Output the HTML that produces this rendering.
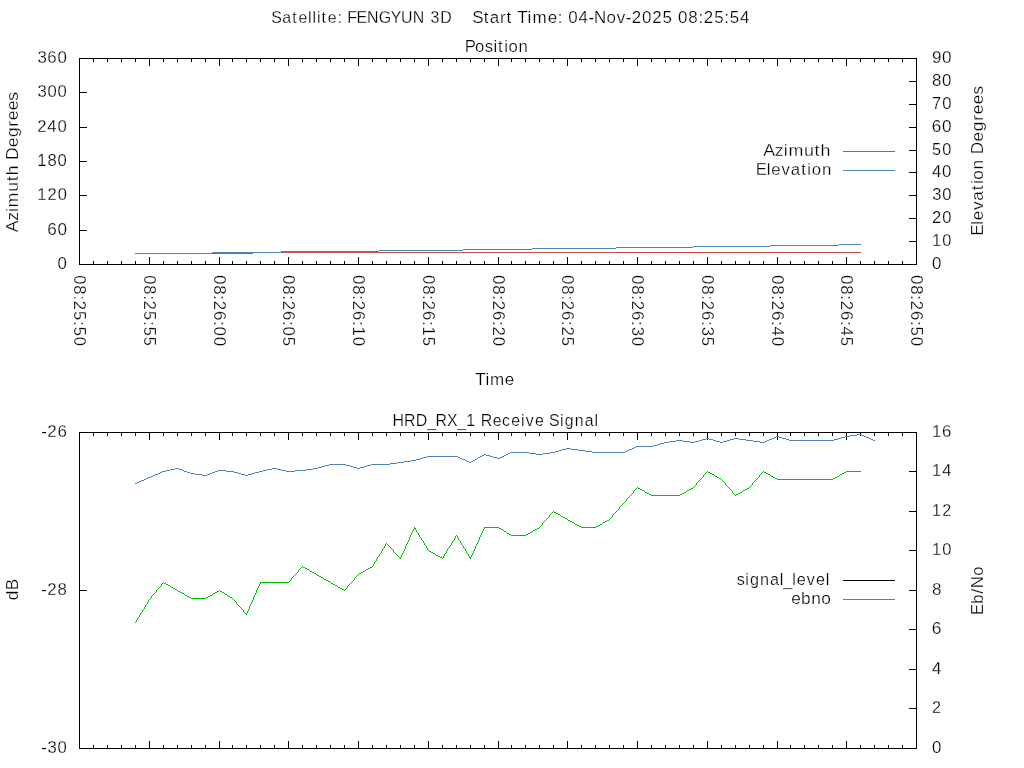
<!DOCTYPE html><html><head><meta charset="utf-8"><title>Pass plot</title><style>html,body{margin:0;padding:0;background:#fff;overflow:hidden;}svg{display:block;will-change:transform;}text{font-family:"Liberation Sans",sans-serif;font-size:17px;fill:#000;font-kerning:none;stroke:#fff;stroke-width:0.25px;}.l{shape-rendering:crispEdges;fill:none;stroke-width:1;}</style></head><body>
<svg width="1024" height="768" viewBox="0 0 1024 768">
<rect x="0" y="0" width="1024" height="768" fill="#fff"/>
<path class="l" stroke="#000" d="M79.5 58.5H916.5V264.5H79.5ZM93.5 261V265M93.5 58V62M107.5 261V265M107.5 58V62M121.5 261V265M121.5 58V62M135.5 261V265M135.5 58V62M149.5 257V265M149.5 58V66M163.5 261V265M163.5 58V62M177.5 261V265M177.5 58V62M191.5 261V265M191.5 58V62M205.5 261V265M205.5 58V62M219.5 257V265M219.5 58V66M232.5 261V265M232.5 58V62M246.5 261V265M246.5 58V62M260.5 261V265M260.5 58V62M274.5 261V265M274.5 58V62M288.5 257V265M288.5 58V66M302.5 261V265M302.5 58V62M316.5 261V265M316.5 58V62M330.5 261V265M330.5 58V62M344.5 261V265M344.5 58V62M358.5 257V265M358.5 58V66M372.5 261V265M372.5 58V62M386.5 261V265M386.5 58V62M400.5 261V265M400.5 58V62M414.5 261V265M414.5 58V62M428.5 257V265M428.5 58V66M442.5 261V265M442.5 58V62M456.5 261V265M456.5 58V62M470.5 261V265M470.5 58V62M484.5 261V265M484.5 58V62M498.5 257V265M498.5 58V66M511.5 261V265M511.5 58V62M525.5 261V265M525.5 58V62M539.5 261V265M539.5 58V62M553.5 261V265M553.5 58V62M567.5 257V265M567.5 58V66M581.5 261V265M581.5 58V62M595.5 261V265M595.5 58V62M609.5 261V265M609.5 58V62M623.5 261V265M623.5 58V62M637.5 257V265M637.5 58V66M651.5 261V265M651.5 58V62M665.5 261V265M665.5 58V62M679.5 261V265M679.5 58V62M693.5 261V265M693.5 58V62M707.5 257V265M707.5 58V66M721.5 261V265M721.5 58V62M735.5 261V265M735.5 58V62M749.5 261V265M749.5 58V62M763.5 261V265M763.5 58V62M777.5 257V265M777.5 58V66M790.5 261V265M790.5 58V62M804.5 261V265M804.5 58V62M818.5 261V265M818.5 58V62M832.5 261V265M832.5 58V62M846.5 257V265M846.5 58V66M860.5 261V265M860.5 58V62M874.5 261V265M874.5 58V62M888.5 261V265M888.5 58V62M902.5 261V265M902.5 58V62M79.5 432.5H916.5V748.5H79.5ZM93.5 745V749M93.5 432V436M107.5 745V749M107.5 432V436M121.5 745V749M121.5 432V436M135.5 745V749M135.5 432V436M149.5 741V749M149.5 432V440M163.5 745V749M163.5 432V436M177.5 745V749M177.5 432V436M191.5 745V749M191.5 432V436M205.5 745V749M205.5 432V436M219.5 741V749M219.5 432V440M232.5 745V749M232.5 432V436M246.5 745V749M246.5 432V436M260.5 745V749M260.5 432V436M274.5 745V749M274.5 432V436M288.5 741V749M288.5 432V440M302.5 745V749M302.5 432V436M316.5 745V749M316.5 432V436M330.5 745V749M330.5 432V436M344.5 745V749M344.5 432V436M358.5 741V749M358.5 432V440M372.5 745V749M372.5 432V436M386.5 745V749M386.5 432V436M400.5 745V749M400.5 432V436M414.5 745V749M414.5 432V436M428.5 741V749M428.5 432V440M442.5 745V749M442.5 432V436M456.5 745V749M456.5 432V436M470.5 745V749M470.5 432V436M484.5 745V749M484.5 432V436M498.5 741V749M498.5 432V440M511.5 745V749M511.5 432V436M525.5 745V749M525.5 432V436M539.5 745V749M539.5 432V436M553.5 745V749M553.5 432V436M567.5 741V749M567.5 432V440M581.5 745V749M581.5 432V436M595.5 745V749M595.5 432V436M609.5 745V749M609.5 432V436M623.5 745V749M623.5 432V436M637.5 741V749M637.5 432V440M651.5 745V749M651.5 432V436M665.5 745V749M665.5 432V436M679.5 745V749M679.5 432V436M693.5 745V749M693.5 432V436M707.5 741V749M707.5 432V440M721.5 745V749M721.5 432V436M735.5 745V749M735.5 432V436M749.5 745V749M749.5 432V436M763.5 745V749M763.5 432V436M777.5 741V749M777.5 432V440M790.5 745V749M790.5 432V436M804.5 745V749M804.5 432V436M818.5 745V749M818.5 432V436M832.5 745V749M832.5 432V436M846.5 741V749M846.5 432V440M860.5 745V749M860.5 432V436M874.5 745V749M874.5 432V436M888.5 745V749M888.5 432V436M902.5 745V749M902.5 432V436M79 230.5H87M79 195.5H87M79 161.5H87M79 127.5H87M79 92.5H87M909 241.5H917M909 218.5H917M909 195.5H917M909 172.5H917M909 150.5H917M909 127.5H917M909 104.5H917M909 81.5H917M79 590.5H87M909 708.5H917M909 669.5H917M909 629.5H917M909 590.5H917M909 550.5H917M909 511.5H917M909 471.5H917"/>
<path class="l" stroke="#c0504d" d="M135 253.5H253M253 252.5H861"/>
<path class="l" stroke="#4f81bd" d="M135 253.5H212M212 252.5H281M281 251.5H379M379 250.5H463M463 249.5H532M532 248.5H616M616 247.5H693M693 246.5H770M770 245.5H839M839 244.5H861"/>
<path class="l" stroke="#c0504d" d="M843 151.5H895"/>
<path class="l" stroke="#4f81bd" d="M843 170.5H895"/>
<path class="l" stroke="#000" d="M843 580.5H895"/>
<path class="l" stroke="#4f81bd" d="M843 599.5H895"/>
<path class="l" stroke="#00c000" d="M135 622.5h1M136.5 620V622M137.5 618V620M138 617.5h1M139.5 615V617M140.5 613V615M141 612.5h1M142.5 610V612M143 609.5h1M144.5 607V609M145.5 605V607M146 604.5h1M147.5 602V604M148.5 600V602M149 599.5h1M150 598.5h1M151.5 596V598M152 595.5h1M153 594.5h1M154 593.5h1M155 592.5h1M156.5 590V592M157 589.5h1M158 588.5h1M159 587.5h1M160 586.5h1M161.5 584V586M162 583.5h1M163 582.5h1M164 583.5H166M166 584.5H168M168 585.5H170M170 586.5h1M171 587.5H173M173 588.5H175M175 589.5H177M177 590.5h1M178 591.5H180M180 592.5H182M182 593.5H184M184 594.5h1M185 595.5H187M187 596.5H189M189 597.5H191M191 598.5H206M206 597.5H208M208 596.5H210M210 595.5H212M212 594.5h1M213 593.5H215M215 592.5H217M217 591.5H219M219 590.5h1M220 591.5H222M222 592.5H224M224 593.5h1M225 594.5H227M227 595.5h1M228 596.5H230M230 597.5H232M232 598.5h1M233 599.5h1M234 600.5h1M235 601.5h1M236.5 602V604M237 604.5h1M238 605.5h1M239 606.5h1M240 607.5h1M241 608.5h1M242 609.5h1M243.5 610V612M244 612.5h1M245 613.5H247M246 614.5h1M247.5 611V613M248.5 609V611M249.5 606V609M250.5 604V606M251.5 602V604M252.5 600V602M253.5 597V600M254.5 595V597M255.5 593V595M256.5 590V593M257.5 588V590M258.5 586V588M259.5 584V586M260 582.5H289M260 583.5h1M289 581.5h1M290 580.5h1M291.5 578V580M292 577.5h1M293 576.5h1M294 575.5h1M295 574.5h1M296 573.5h1M297 572.5h1M298.5 570V572M299 569.5h1M300 568.5h1M301 567.5h1M302 566.5h1M303 567.5H305M305 568.5H307M307 569.5H309M309 570.5h1M310 571.5H312M312 572.5H314M314 573.5H316M316 574.5h1M317 575.5H319M319 576.5H321M321 577.5H323M323 578.5h1M324 579.5H326M326 580.5H328M328 581.5H330M330 582.5h1M331 583.5H333M333 584.5H335M335 585.5H337M337 586.5h1M338 587.5H340M340 588.5H342M342 589.5H344M344 590.5h1M345 589.5h1M346 588.5h1M347.5 586V588M348 585.5h1M349 584.5h1M350 583.5h1M351 582.5h1M352 581.5h1M353 580.5h1M354.5 578V580M355 577.5h1M356 576.5h1M357 575.5h1M358 574.5h1M359 573.5H361M361 572.5H363M363 571.5H365M365 570.5h1M366 569.5H368M368 568.5H370M370 567.5H372M372 566.5h1M373.5 564V566M374.5 562V564M375 561.5h1M376.5 559V561M377.5 557V559M378 556.5h1M379.5 554V556M380 553.5h1M381.5 551V553M382.5 549V551M383 548.5h1M384.5 546V548M385.5 544V546M386 543.5h1M387 544.5h1M388 545.5h1M389 546.5h1M390 547.5h1M391 548.5h1M392 549.5h1M393.5 550V552M394 552.5h1M395 553.5h1M396 554.5h1M397 555.5h1M398 556.5h1M399 557.5H401M400 558.5h1M401.5 555V557M402.5 553V555M403.5 551V553M404.5 549V551M405.5 546V549M406.5 544V546M407.5 542V544M408.5 540V542M409.5 537V540M410.5 535V537M411.5 533V535M412.5 531V533M413.5 529V531M414 527.5h1M414 528.5H416M415 529.5h1M416.5 530V532M417 532.5h1M418.5 533V535M419.5 535V537M420 537.5h1M421.5 538V540M422 540.5h1M423.5 541V543M424.5 543V545M425 545.5h1M426.5 546V548M427.5 548V550M428 550.5h1M429 551.5H431M431 552.5H433M433 553.5H435M435 554.5h1M436 555.5H438M438 556.5H440M440 557.5H442M442 558.5h1M443.5 556V558M444.5 554V556M445 553.5h1M446.5 551V553M447.5 549V551M448 548.5h1M449.5 546V548M450 545.5h1M451.5 543V545M452.5 541V543M453 540.5h1M454.5 538V540M455.5 536V538M456 535.5h1M457.5 536V538M458.5 538V540M459 540.5h1M460.5 541V543M461.5 543V545M462 545.5h1M463.5 546V548M464 548.5h1M465.5 549V551M466.5 551V553M467 553.5h1M468.5 554V556M469 556.5h1M469 557.5H471M470 558.5h1M471.5 555V557M472.5 553V555M473.5 551V553M474.5 549V551M475.5 546V549M476.5 544V546M477.5 542V544M478.5 540V542M479.5 537V540M480.5 535V537M481.5 533V535M482.5 531V533M483.5 529V531M484 527.5H499M484 528.5h1M499 528.5H501M501 529.5H503M503 530.5h1M504 531.5H506M506 532.5h1M507 533.5H509M509 534.5H511M511 535.5H526M526 534.5H528M528 533.5H530M530 532.5H532M532 531.5h1M533 530.5H535M535 529.5H537M537 528.5H539M539 527.5h1M540 526.5h1M541 525.5h1M542.5 523V525M543 522.5h1M544 521.5h1M545 520.5h1M546 519.5h1M547 518.5h1M548 517.5h1M549.5 515V517M550 514.5h1M551 513.5h1M552 512.5h1M553 511.5h1M554 512.5H556M556 513.5H558M558 514.5H560M560 515.5h1M561 516.5H563M563 517.5H565M565 518.5H567M567 519.5h1M568 520.5H570M570 521.5H572M572 522.5H574M574 523.5h1M575 524.5H577M577 525.5H579M579 526.5H581M581 527.5H596M596 526.5H598M598 525.5H600M600 524.5H602M602 523.5h1M603 522.5H605M605 521.5H607M607 520.5H609M609 519.5h1M610 518.5h1M611 517.5h1M612.5 515V517M613 514.5h1M614 513.5h1M615 512.5h1M616 511.5h1M617 510.5h1M618 509.5h1M619.5 507V509M620 506.5h1M621 505.5h1M622 504.5h1M623 503.5h1M624 502.5h1M625 501.5h1M626.5 499V501M627 498.5h1M628 497.5h1M629 496.5h1M630 495.5h1M631 494.5h1M632 493.5h1M633.5 491V493M634 490.5h1M635 489.5h1M636 488.5h1M637 487.5h1M638 488.5H640M640 489.5H642M642 490.5H644M644 491.5h1M645 492.5H647M647 493.5H649M649 494.5H651M651 495.5H680M680 494.5H682M682 493.5H684M684 492.5H686M686 491.5h1M687 490.5H689M689 489.5H691M691 488.5H693M693 487.5h1M694 486.5h1M695 485.5h1M696.5 483V485M697 482.5h1M698 481.5h1M699 480.5h1M700 479.5h1M701 478.5h1M702 477.5h1M703.5 475V477M704 474.5h1M705 473.5h1M706 472.5h1M707 471.5h1M708 472.5H710M710 473.5H712M712 474.5H714M714 475.5h1M715 476.5H717M717 477.5H719M719 478.5H721M721 479.5h1M722 480.5h1M723 481.5h1M724 482.5h1M725.5 483V485M726 485.5h1M727 486.5h1M728 487.5h1M729 488.5h1M730 489.5h1M731 490.5h1M732.5 491V493M733 493.5h1M734 494.5h1M735 495.5h1M736 494.5H738M738 493.5H740M740 492.5H742M742 491.5h1M743 490.5H745M745 489.5H747M747 488.5H749M749 487.5h1M750 486.5h1M751 485.5h1M752.5 483V485M753 482.5h1M754 481.5h1M755 480.5h1M756 479.5h1M757 478.5h1M758 477.5h1M759.5 475V477M760 474.5h1M761 473.5h1M762 472.5h1M763 471.5h1M764 472.5H766M766 473.5H768M768 474.5H770M770 475.5h1M771 476.5H773M773 477.5H775M775 478.5H777M777 479.5H833M833 478.5H835M835 477.5H837M837 476.5H839M839 475.5h1M840 474.5H842M842 473.5H844M844 472.5H846M846 471.5H861"/>
<path class="l" stroke="#4f81bd" d="M135 483.5H137M137 482.5H139M139 481.5H141M141 480.5H144M144 479.5H146M146 478.5H148M148 477.5H151M151 476.5H153M153 475.5H155M155 474.5H158M158 473.5H160M160 472.5H162M162 471.5H166M166 470.5H170M170 469.5H175M175 468.5H179M179 469.5H182M182 470.5H184M184 471.5H187M187 472.5H190M190 473.5H195M195 474.5H202M202 475.5H207M207 474.5H210M210 473.5H212M212 472.5H215M215 471.5H218M218 470.5H226M226 471.5H234M234 472.5H238M238 473.5H241M241 474.5H245M245 475.5H248M248 474.5H252M252 473.5H255M255 472.5H259M259 471.5H263M263 470.5H267M267 469.5H272M272 468.5H277M277 469.5H281M281 470.5H286M286 471.5H295M295 470.5H306M306 469.5H313M313 468.5H318M318 467.5H322M322 466.5H325M325 465.5H329M329 464.5H346M346 465.5H350M350 466.5H353M353 467.5H357M357 468.5H360M360 467.5H364M364 466.5H367M367 465.5H371M371 464.5H390M390 463.5H397M397 462.5H404M404 461.5H411M411 460.5H416M416 459.5H420M420 458.5H423M423 457.5H427M427 456.5H458M458 457.5H460M460 458.5H462M462 459.5H465M465 460.5H467M467 461.5H469M469 462.5H471M471 461.5H473M473 460.5H475M475 459.5H477M477 458.5h1M478 457.5H480M480 456.5H482M482 455.5H484M484 454.5H486M486 455.5H490M490 456.5H493M493 457.5H497M497 458.5H500M500 457.5H502M502 456.5H504M504 455.5H506M506 454.5H508M508 453.5H510M510 452.5H529M529 453.5H536M536 454.5H543M543 453.5H550M550 452.5H555M555 451.5H559M559 450.5H562M562 449.5H566M566 448.5H571M571 449.5H578M578 450.5H585M585 451.5H592M592 452.5H625M625 451.5H627M627 450.5H629M629 449.5H632M632 448.5H634M634 447.5H636M636 446.5H653M653 445.5H657M657 444.5H660M660 443.5H664M664 442.5H669M669 441.5H676M676 440.5H683M683 441.5H690M690 442.5H695M695 441.5H699M699 440.5H702M702 439.5H706M706 438.5H709M709 439.5H713M713 440.5H716M716 441.5H720M720 442.5H723M723 441.5H727M727 440.5H730M730 439.5H734M734 438.5H739M739 439.5H746M746 440.5H753M753 441.5H760M760 442.5H765M765 441.5H767M767 440.5H769M769 439.5H772M772 438.5H774M774 437.5H776M776 436.5H779M779 437.5H782M782 438.5H786M786 439.5H789M789 440.5H834M834 439.5H838M838 438.5H841M841 437.5H845M845 436.5H850M850 435.5H857M857 434.5H862M862 435.5H864M864 436.5H866M866 437.5H869M869 438.5H871M871 439.5H873M873 440.5H875"/>
<text transform="translate(272.70 23.00) scale(0.9374 1)" x="-1.51 10.14 20.81 27.40 37.77 42.51 47.25 52.17 58.76 69.17 74.39 79.56 89.42 100.59 113.15 125.86 136.84 149.41 161.94 168.23 178.70" y="0">Satellite: FENGYUN 3D</text>
<text transform="translate(474.00 23.00) scale(0.9977 1)" x="-1.73 9.70 15.68 25.94 32.57 38.38 43.25 53.73 58.60 73.91 83.88 88.96 94.50 104.71 114.72 120.35 132.75 142.97 152.05 158.15 168.47 178.69 189.03 198.89 204.42 214.69 224.93 230.36 240.69 250.91 256.40 266.61" y="0">Start Time: 04-Nov-2025 08:25:54</text>
<text transform="translate(466.70 52.00) scale(0.9821 1)" x="-1.93 8.56 18.27 27.24 31.96 38.22 42.66 52.83" y="0">Position</text>
<text transform="translate(475.80 385.00) scale(0.9999 1)" x="-0.44 9.72 14.13 28.85" y="0">Time</text>
<text transform="translate(393.80 426.00) scale(0.9342 1)" x="-1.39 10.98 23.61 35.85 44.61 56.93 68.02 77.65 87.88 93.11 105.82 115.91 125.76 136.18 141.28 151.18 161.10 166.18 177.90 182.92 193.68 204.35 214.85" y="0" dy="0 0 0 1 -1 0 1 -1 0 0 0 0 0 0 0 0 0 0 0 0 0 0 0">HRD_RX_1 Receive Signal</text>
<text transform="translate(763.90 156.00) scale(1.0499 1)" x="-0.51 10.42 18.88 23.34 38.22 48.22 54.04" y="0">Azimuth</text>
<text transform="translate(757.70 175.00) scale(0.9886 1)" x="-1.96 9.20 13.80 24.16 33.54 43.94 50.24 54.72 64.95" y="0">Elevation</text>
<text transform="translate(737.50 585.00) scale(0.9528 1)" x="-0.84 8.27 13.12 23.65 34.09 44.44 48.15 57.47 62.18 72.72 82.41 92.65" y="0" dy="0 0 0 0 0 0 1 -1 0 0 0 0">signal_level</text>
<text transform="translate(791.80 604.00) scale(1.0172 1)" x="-0.66 9.10 19.10 28.96" y="0">ebno</text>
<text transform="translate(58.22 269.00) scale(0.9921 1)" x="-0.66" y="0">0</text>
<text transform="translate(48.11 235.00) scale(1.0092 1)" x="-0.85 9.29" y="0">60</text>
<text transform="translate(38.57 200.00) scale(0.9661 1)" x="-1.34 9.20 19.79" y="0">120</text>
<text transform="translate(38.57 166.00) scale(0.9819 1)" x="-1.39 9.03 19.40" y="0">180</text>
<text transform="translate(37.98 132.00) scale(0.9808 1)" x="-0.79 9.59 20.02" y="0">240</text>
<text transform="translate(38.03 97.00) scale(0.9791 1)" x="-0.62 9.62 20.02" y="0">300</text>
<text transform="translate(38.03 63.00) scale(0.9903 1)" x="-0.67 9.40 19.74" y="0">360</text>
<text transform="translate(932.60 269.00) scale(0.9921 1)" x="-0.66" y="0">0</text>
<text transform="translate(933.31 246.00) scale(0.9710 1)" x="-1.35 9.18" y="0">10</text>
<text transform="translate(932.72 223.00) scale(0.9746 1)" x="-0.76 9.73" y="0">20</text>
<text transform="translate(932.77 200.00) scale(0.9725 1)" x="-0.59 9.72" y="0">30</text>
<text transform="translate(932.33 177.00) scale(0.9922 1)" x="-0.44 9.87" y="0">40</text>
<text transform="translate(932.78 155.00) scale(0.9643 1)" x="-0.72 9.82" y="0">50</text>
<text transform="translate(932.67 132.00) scale(1.0092 1)" x="-0.85 9.29" y="0">60</text>
<text transform="translate(932.86 109.00) scale(0.9816 1)" x="-0.76 9.49" y="0">70</text>
<text transform="translate(932.64 86.00) scale(0.9975 1)" x="-0.72 9.49" y="0">80</text>
<text transform="translate(932.56 63.00) scale(1.0082 1)" x="-0.66 9.41" y="0">90</text>
<text transform="translate(42.00 437.00) scale(0.9966 1)" x="-0.72 5.33 15.54" y="0">-26</text>
<text transform="translate(42.00 595.00) scale(0.9872 1)" x="-0.70 5.43 15.79" y="0">-28</text>
<text transform="translate(42.00 753.00) scale(0.9811 1)" x="-0.68 5.70 15.92" y="0">-30</text>
<text transform="translate(932.60 753.00) scale(0.9921 1)" x="-0.66" y="0">0</text>
<text transform="translate(932.72 713.00) scale(0.9563 1)" x="-0.69" y="0">2</text>
<text transform="translate(932.33 674.00) scale(0.9922 1)" x="-0.44" y="0">4</text>
<text transform="translate(932.67 634.00) scale(1.0268 1)" x="-0.91" y="0">6</text>
<text transform="translate(932.64 595.00) scale(1.0029 1)" x="-0.74" y="0">8</text>
<text transform="translate(933.31 555.00) scale(0.9710 1)" x="-1.35 9.18" y="0">10</text>
<text transform="translate(933.31 516.00) scale(0.9521 1)" x="-1.29 9.41" y="0">12</text>
<text transform="translate(933.31 476.00) scale(0.9716 1)" x="-1.36 9.13" y="0">14</text>
<text transform="translate(933.31 437.00) scale(0.9885 1)" x="-1.41 8.88" y="0">16</text>
<text transform="translate(73.80 275.70) rotate(90) scale(0.9725 1)" x="-0.58 9.88 20.26 25.84 36.37 46.74 52.38 62.84" y="0">08:25:50</text>
<text transform="translate(143.80 275.70) rotate(90) scale(0.9637 1)" x="-0.54 10.01 20.47 26.12 36.75 47.19 52.90 63.47" y="0">08:25:55</text>
<text transform="translate(213.80 275.70) rotate(90) scale(0.9954 1)" x="-0.68 9.55 19.75 25.14 35.36 45.62 51.06 61.29" y="0">08:26:00</text>
<text transform="translate(282.80 275.70) rotate(90) scale(0.9866 1)" x="-0.64 9.67 19.94 25.41 35.72 46.04 51.56 61.89" y="0">08:26:05</text>
<text transform="translate(352.80 275.70) rotate(90) scale(0.9889 1)" x="-0.65 9.64 19.89 25.33 35.62 45.93 51.37 61.72" y="0">08:26:10</text>
<text transform="translate(422.80 275.70) rotate(90) scale(0.9800 1)" x="-0.61 9.77 20.09 25.61 35.99 46.37 51.88 62.34" y="0">08:26:15</text>
<text transform="translate(492.80 275.70) rotate(90) scale(0.9899 1)" x="-0.66 9.62 19.87 25.30 35.58 45.88 51.32 61.65" y="0">08:26:20</text>
<text transform="translate(561.80 275.70) rotate(90) scale(0.9811 1)" x="-0.62 9.75 20.07 25.58 35.95 46.31 51.82 62.26" y="0">08:26:25</text>
<text transform="translate(631.80 275.70) rotate(90) scale(0.9892 1)" x="-0.65 9.64 19.88 25.33 35.61 45.92 51.56 61.70" y="0">08:26:30</text>
<text transform="translate(701.80 275.70) rotate(90) scale(0.9804 1)" x="-0.62 9.76 20.08 25.60 35.97 46.35 52.07 62.31" y="0">08:26:35</text>
<text transform="translate(771.80 275.70) rotate(90) scale(0.9954 1)" x="-0.68 9.55 19.75 25.14 35.36 45.62 51.01 61.29" y="0">08:26:40</text>
<text transform="translate(840.80 275.70) rotate(90) scale(0.9866 1)" x="-0.64 9.67 19.94 25.40 35.72 46.04 51.50 61.88" y="0">08:26:45</text>
<text transform="translate(910.80 275.70) rotate(90) scale(0.9866 1)" x="-0.64 9.67 19.94 25.41 35.72 46.04 51.57 61.88" y="0">08:26:50</text>
<text transform="translate(18.20 231.80) rotate(-90) scale(1.0351 1)" x="-0.45 10.60 19.13 23.71 38.75 48.84 54.75 64.49 69.47 81.73 91.48 101.59 107.77 117.42 126.67" y="0">Azimuth Degrees</text>
<text transform="translate(18.10 600.00) rotate(-90) scale(1.0086 1)" x="-0.33 9.70" y="0">dB</text>
<text transform="translate(983.10 233.80) rotate(-90) scale(1.0099 1)" x="-2.01 8.99 13.46 23.64 32.83 43.09 49.28 53.62 63.66 73.55 78.88 91.48 101.56 111.91 118.35 128.30 137.84" y="0">Elevation Degrees</text>
<text transform="translate(983.20 613.00) rotate(-90) scale(0.9834 1)" x="-1.93 9.39 19.89 25.13 37.87" y="0">Eb/No</text>
</svg></body></html>
